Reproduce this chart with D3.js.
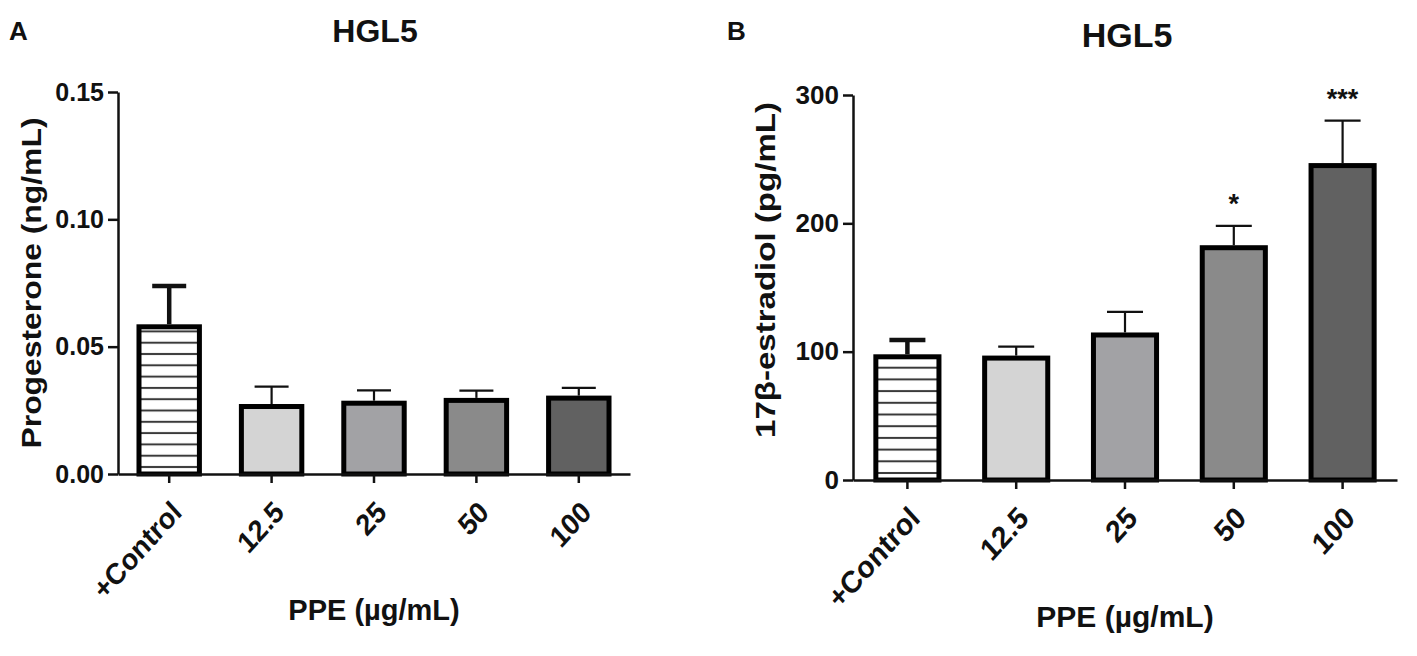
<!DOCTYPE html>
<html>
<head>
<meta charset="utf-8">
<script src="https://cdn.jsdelivr.net/npm/d3@7"></script>
<style>
  body { margin: 0; background: #fff; }
  svg text { font-family: 'Liberation Sans', Arial, Helvetica, sans-serif; font-weight: bold; fill: #111; }
</style>
</head>
<body>
<div class="chart"></div>
<script>
// Data
const categories = ['+Control', '12.5', '25', '50', '100'];
const progMean = [0.0578, 0.0265, 0.0278, 0.0289, 0.0298];
const progSem = [0.016, 0.0078, 0.005, 0.0038, 0.004];
const progTicks = [0, 0.05, 0.1, 0.15];
const estrMean = [96, 95, 113, 181, 245];
const estrSem = [13, 9, 18, 17, 35];
const estrTicks = [0, 100, 200, 300];
const estrSig = ['', '', '', '*', '***'];

const W = 1417, H = 656;
const barFills = ['url(#stripes-A)', '#d4d4d4', '#a2a2a5', '#8a8a8a', '#616161'];

const svg = d3.select('.chart').append('svg').attr('width', W).attr('height', H);
const defs = svg.append('defs');

function stripes(id, baseY, period) {
  const p = defs.append('pattern')
    .attr('id', id)
    .attr('patternUnits', 'userSpaceOnUse')
    .attr('width', 10).attr('height', period)
    .attr('patternTransform', `translate(0, ${baseY})`);
  p.append('rect').attr('width', 10).attr('height', period).attr('fill', '#fff');
  p.append('rect').attr('y', -1).attr('width', 10).attr('height', 2).attr('fill', '#3a3a3a');
  p.append('rect').attr('y', period - 1).attr('width', 10).attr('height', 2).attr('fill', '#3a3a3a');
}

function panel(cfg) {
  const g = svg.append('g');
  const x = d3.scaleBand().domain(categories)
    .range([cfg.x0, cfg.x1]).paddingInner(cfg.pad).paddingOuter(cfg.pad / 2);
  const y = d3.scaleLinear().domain(cfg.domain).range([cfg.yBottom, cfg.yTop]);

  stripes(cfg.stripeId, cfg.yBottom - 7, cfg.period);

  // bars
  g.selectAll('rect.bar').data(cfg.mean).enter().append('rect')
    .attr('class', 'bar')
    .attr('x', (d, i) => x(categories[i]))
    .attr('width', x.bandwidth())
    .attr('y', (d) => y(d))
    .attr('height', (d) => y(0) - y(d))
    .attr('fill', (d, i) => (i === 0 ? `url(#${cfg.stripeId})` : barFills[i]))
    .attr('stroke', '#000')
    .attr('stroke-width', 5);

  // error bars (SEM, upper only)
  const eb = g.selectAll('g.err').data(cfg.mean).enter().append('g').attr('class', 'err')
    .attr('stroke', '#111')
    .attr('stroke-width', (d, i) => (i === 0 ? 4.5 : 2.2));
  const cx = (i) => x(categories[i]) + x.bandwidth() / 2;
  eb.append('line')
    .attr('x1', (d, i) => cx(i)).attr('x2', (d, i) => cx(i))
    .attr('y1', (d) => y(d) - 2.5)
    .attr('y2', (d, i) => y(d + cfg.sem[i]));
  eb.append('line')
    .attr('x1', (d, i) => cx(i) - cfg.cap).attr('x2', (d, i) => cx(i) + cfg.cap)
    .attr('y1', (d, i) => y(d + cfg.sem[i]))
    .attr('y2', (d, i) => y(d + cfg.sem[i]));

  // significance marks
  if (cfg.sig) {
    g.selectAll('text.sig').data(cfg.sig).enter().append('text')
      .attr('class', 'sig')
      .attr('x', (d, i) => cx(i))
      .attr('y', (d, i) => y(cfg.mean[i] + cfg.sem[i]) - 13)
      .attr('text-anchor', 'middle')
      .style('font-size', '27px')
      .text((d) => d);
  }

  // y axis
  const yAxis = d3.axisLeft(y).tickValues(cfg.ticks).tickFormat(cfg.fmt)
    .tickSize(10).tickSizeOuter(0).tickPadding(4);
  const yG = g.append('g').attr('transform', `translate(${cfg.x0},0)`).call(yAxis);
  yG.select('.domain').attr('stroke', '#111').attr('stroke-width', 2.5);
  yG.selectAll('.tick line').attr('stroke', '#111').attr('stroke-width', 2.5);
  yG.selectAll('.tick text').attr('fill', '#111').style('font-size', cfg.tickFont + 'px')
    .style('font-family', null);

  // x axis
  const xAxis = d3.axisBottom(x).tickSize(9).tickSizeOuter(0).tickFormat('');
  const xG = g.append('g').attr('transform', `translate(0,${cfg.yBottom})`).call(xAxis);
  xG.select('.domain').attr('stroke', '#111').attr('stroke-width', 2.5);
  xG.selectAll('.tick line').attr('stroke', '#111').attr('stroke-width', 2.5);
  xG.selectAll('.tick').append('text')
    .attr('text-anchor', 'end')
    .attr('transform', 'translate(14,40) scale(1,1.1) rotate(-45)')
    .style('font-size', cfg.xTickFont + 'px')
    .style('font-family', null)
    .attr('fill', '#111')
    .text((d) => d);

  // axis titles
  g.append('text')
    .attr('transform', `translate(${cfg.yLabelX},${cfg.yLabelY}) rotate(-90)`)
    .attr('text-anchor', 'middle')
    .attr('textLength', cfg.yLabelLen)
    .attr('lengthAdjust', 'spacingAndGlyphs')
    .style('font-size', '28px')
    .text(cfg.yLabel);

  g.append('text')
    .attr('x', cfg.xLabelX).attr('y', cfg.xLabelY)
    .attr('text-anchor', 'middle')
    .style('font-size', cfg.xLabelFont + 'px')
    .text('PPE (\u00b5g/mL)');

  // title and panel letter
  g.append('text')
    .attr('x', cfg.titleX).attr('y', cfg.titleY)
    .attr('text-anchor', 'middle')
    .style('font-size', cfg.titleFont + 'px')
    .text('HGL5');
  g.append('text')
    .attr('x', cfg.letterX).attr('y', 40)
    .style('font-size', '26px')
    .text(cfg.letter);
}

panel({
  letter: 'A', letterX: 9,
  mean: progMean, sem: progSem, ticks: progTicks, domain: [0, 0.15],
  fmt: d3.format('.2f'),
  x0: 118, x1: 630, yTop: 92, yBottom: 474, pad: 0.41, cap: 17,
  stripeId: 'stripes-A', period: 11.3,
  tickFont: 25, xTickFont: 27,
  yLabel: 'Progesterone (ng/mL)', yLabelX: 41, yLabelY: 283, yLabelLen: 331,
  xLabelX: 374, xLabelY: 620, xLabelFont: 29,
  titleX: 375, titleY: 42, titleFont: 32,
});

panel({
  letter: 'B', letterX: 727,
  mean: estrMean, sem: estrSem, ticks: estrTicks, domain: [0, 300],
  fmt: d3.format('d'), sig: estrSig,
  x0: 853, x1: 1397, yTop: 95, yBottom: 480, pad: 0.42, cap: 18,
  stripeId: 'stripes-B', period: 11.7,
  tickFont: 26, xTickFont: 28,
  yLabel: '17\u03b2-estradiol (pg/mL)', yLabelX: 775, yLabelY: 270, yLabelLen: 336,
  xLabelX: 1125, xLabelY: 627, xLabelFont: 30,
  titleX: 1127, titleY: 47, titleFont: 34,
});
</script>
</body>
</html>
